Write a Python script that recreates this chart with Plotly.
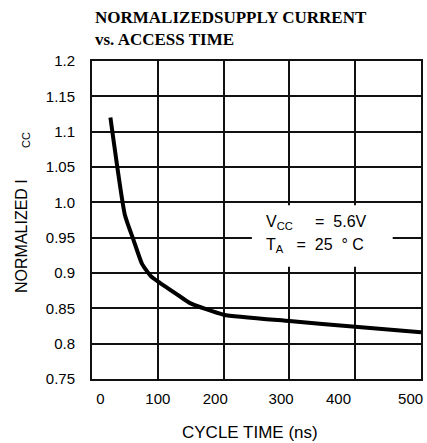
import plotly.graph_objects as go

# Data
cycle_time = [28, 50, 63, 76, 89, 100, 135, 150, 200, 300, 400, 500]
norm_icc = [1.12, 0.982, 0.947, 0.913, 0.896, 0.888, 0.866, 0.857, 0.841, 0.832, 0.824, 0.816]

x_ticks = [0, 100, 200, 300, 400, 500]
x_tick_text = ["0", "100", "200", "300", "400", "500"]
y_ticks = [0.75, 0.8, 0.85, 0.9, 0.95, 1.0, 1.05, 1.1, 1.15, 1.2]
y_tick_text = ["0.75", "0.8", "0.85", "0.9", "0.95", "1.0", "1.05", "1.1", "1.15", "1.2"]

W, H = 427, 443
L, R, T, B = 92, 6, 61, 64
PH = H - T - B
NB = "\u00a0"

# the reference's x labels sit slightly off their gridlines; pad with spaces to mimic
x_pad = [(4, 0), (0, 0), (0, 4), (0, 4), (0, 8), (0, 5)]
x_labels = [NB * a + t + NB * b for t, (a, b) in zip(x_tick_text, x_pad)]

fig = go.Figure()
fig.add_trace(go.Scatter(
    x=cycle_time, y=norm_icc, mode="lines",
    line=dict(color="black", width=4, shape="spline", smoothing=0.5),
    showlegend=False, hoverinfo="skip"))

def py(p):
    return (H - B - p) / PH

fig.update_layout(
    width=W, height=H,
    margin=dict(l=L, r=R, t=T, b=B, pad=0, autoexpand=False),
    paper_bgcolor="white", plot_bgcolor="white",
    font=dict(family="Liberation Sans, Arial, sans-serif", color="black", size=15),
    xaxis=dict(range=[0, 500], tickvals=x_ticks, ticktext=x_labels, showgrid=True,
               gridcolor="#111", gridwidth=2, showline=True, linecolor="#111", linewidth=2,
               mirror=True, ticks="", zeroline=False, ticklabelstandoff=5,
               ticklabeloverflow="allow", automargin=False, tickfont=dict(size=15)),
    yaxis=dict(range=[0.75, 1.2], tickvals=y_ticks, ticktext=y_tick_text, showgrid=True,
               gridcolor="#111", gridwidth=2, showline=True, linecolor="#111", linewidth=2,
               mirror=True, ticks="", zeroline=False, ticklabelstandoff=12,
               automargin=False, tickfont=dict(size=15)),
    shapes=[dict(type="rect", xref="x", yref="y", x0=243, x1=457, y0=0.909, y1=0.996,
                 fillcolor="white", line=dict(width=0), layer="above")],
    annotations=[
        dict(text="<b>NORMALIZEDSUPPLY CURRENT</b>", xref="paper", yref="paper",
             x=0, xshift=1, y=py(18), xanchor="left", yanchor="middle", showarrow=False,
             font=dict(family="Liberation Serif, Times New Roman, serif", size=17)),
        dict(text="<b>vs. ACCESS TIME</b>", xref="paper", yref="paper",
             x=0, xshift=1, y=py(40), xanchor="left", yanchor="middle", showarrow=False,
             font=dict(family="Liberation Serif, Times New Roman, serif", size=17)),
        dict(text="CYCLE TIME (ns)", xref="paper", yref="paper", x=(250 - L) / (W - L - R),
             y=py(432), xanchor="center", yanchor="middle", showarrow=False,
             font=dict(size=17)),
        dict(text="NORMALIZED I", xref="paper", yref="paper", x=0, xshift=-71,
             y=py(236), xanchor="center", yanchor="middle", textangle=-90,
             showarrow=False, font=dict(size=16)),
        dict(text="CC", xref="paper", yref="paper", x=0, xshift=-66,
             y=py(140), xanchor="center", yanchor="middle", textangle=-90,
             showarrow=False, font=dict(size=11)),
        dict(text="V<sub>CC</sub>" + NB * 5 + "=" + NB * 2 + "5.6V", xref="paper",
             yref="paper", x=(264 - L) / (W - L - R), y=py(222), xanchor="left",
             yanchor="middle", showarrow=False, font=dict(size=16)),
        dict(text="T<sub>A</sub>" + NB * 3 + "=" + NB * 2 + "25" + NB * 2 + "°" + NB + "C",
             xref="paper", yref="paper", x=(264 - L) / (W - L - R), y=py(245),
             xanchor="left", yanchor="middle", showarrow=False, font=dict(size=16)),
    ],
)

fig.write_html("out.html", post_script="document.body.style.margin='0';",
               config={"displayModeBar": False})
